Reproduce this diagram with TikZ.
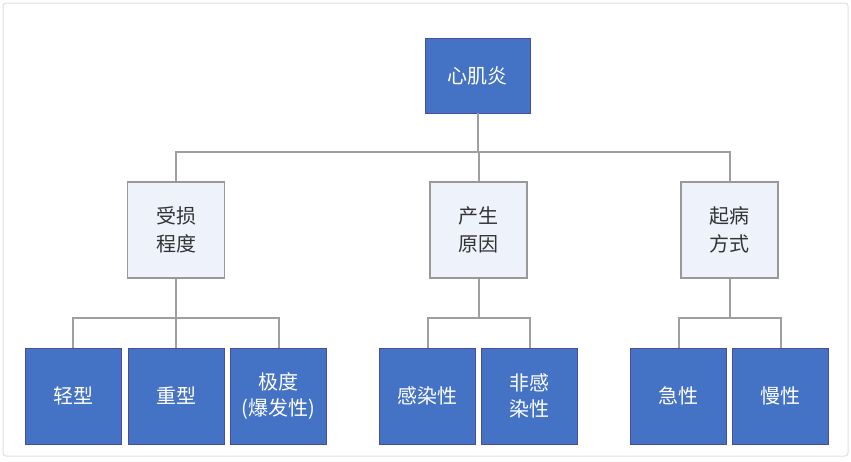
\documentclass[tikz,border=0pt]{standalone}
\usepackage{fontspec}
\newfontfamily\cjk{Noto Sans CJK SC}
\begin{document}
\begin{tikzpicture}[x=1pt,y=-1pt,
  dark/.style={draw=blue!45!black!70,fill=blue1,minimum width=96pt,minimum height=96pt,text=white,font=\cjk\fontsize{20}{26}\selectfont,align=center,inner sep=0pt,line width=0.6pt},
  light/.style={draw=gray!80,fill=blue2,minimum width=97pt,minimum height=96pt,text=black!80,font=\cjk\fontsize{20}{28}\selectfont,align=center,inner sep=0pt,line width=1.2pt},
  conn/.style={draw=gray!75,line width=2pt}]
\definecolor{blue1}{HTML}{4472C4}
\definecolor{blue2}{HTML}{EEF3FB}
\useasboundingbox (0,0) rectangle (851,461);
\draw[gray!25,line width=1pt,rounded corners=3pt] (3,3) rectangle (848,456);
\node[dark,minimum width=105pt,minimum height=75pt] (top) at (477.5,75.5) {心肌炎};
\node[light] (m1) at (176,230) {受损\\程度};
\node[light] (m2) at (478.5,230) {产生\\原因};
\node[light] (m3) at (729.5,230) {起病\\方式};
\node[dark] (b1) at (73,396) {轻型};
\node[dark] (b2) at (176,396) {重型};
\node[dark] (b3) at (278.5,396) {极度\\(爆发性)};
\node[dark] (b4) at (427.5,396) {感染性};
\node[dark] (b5) at (529.5,396) {非感\\染性};
\node[dark] (b6) at (678.5,396) {急性};
\node[dark] (b7) at (780.5,396) {慢性};
\coordinate (h1) at (0,152);
\coordinate (h2) at (0,318);
\draw[conn] (top.south) -- (top.south |- h1);
\draw[conn] (m1.north) -- (m1.north |- h1) -- (m3.north |- h1) -- (m3.north);
\draw[conn] (m2.north) -- (m2.north |- h1);
\draw[conn] (m1.south) -- (m1.south |- h2);
\draw[conn] (b1.north) -- (b1.north |- h2) -- (b3.north |- h2) -- (b3.north);
\draw[conn] (b2.north) -- (b2.north |- h2);
\draw[conn] (m2.south) -- (m2.south |- h2);
\draw[conn] (b4.north) -- (b4.north |- h2) -- (b5.north |- h2) -- (b5.north);
\draw[conn] (m3.south) -- (m3.south |- h2);
\draw[conn] (b6.north) -- (b6.north |- h2) -- (b7.north |- h2) -- (b7.north);
\end{tikzpicture}
\end{document}
